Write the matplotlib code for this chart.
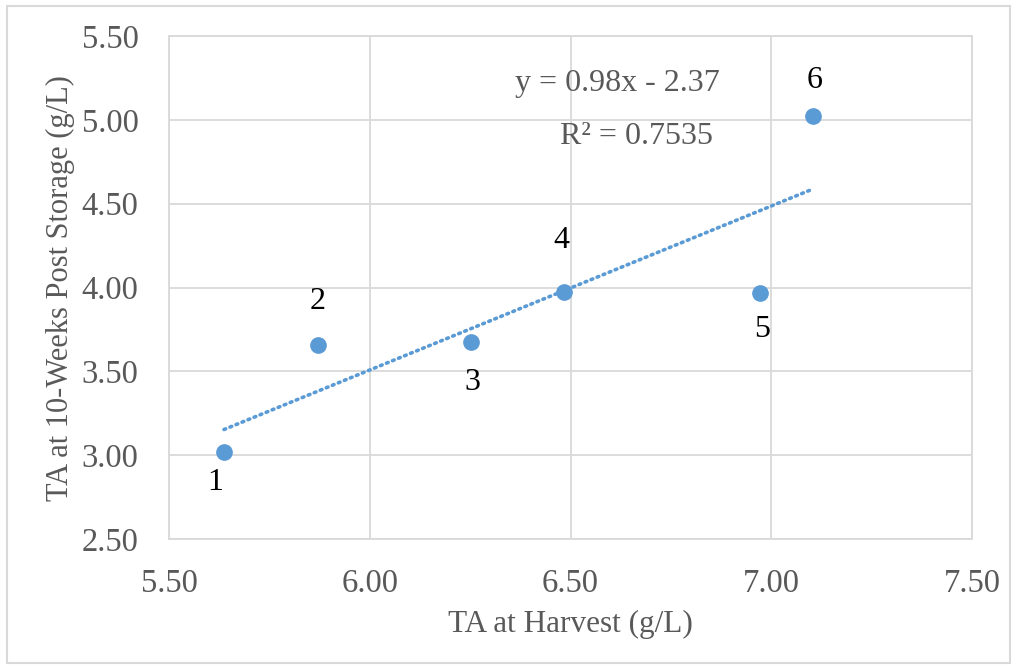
import numpy as np
import matplotlib
matplotlib.use("Agg")
import matplotlib.pyplot as plt
from matplotlib.patches import Rectangle

# Data
labels = ["1", "2", "3", "4", "5", "6"]
x_vals = [5.637, 5.872, 6.253, 6.483, 6.971, 7.103]
y_vals = [3.018, 3.655, 3.673, 3.976, 3.970, 5.024]
label_offsets = [(-9, -30), (-1, 44), (1, -40), (-2, 51), (3, -37), (2, 35)]  # pixels
x_ticks = [5.50, 6.00, 6.50, 7.00, 7.50]
y_ticks = [2.50, 3.00, 3.50, 4.00, 4.50, 5.00, 5.50]
eq_text = "y = 0.98x - 2.37"
r2_text = "R² = 0.7535"

W, H = 1017, 668
fig = plt.figure(figsize=(W / 100, H / 100), dpi=100)
plt.rcParams['font.family'] = ['Liberation Serif', 'DejaVu Serif']

# outer border
fig.patches.append(Rectangle((7 / W, 5 / H), (1010 - 7) / W, (662 - 5) / H,
                             transform=fig.transFigure, fill=False,
                             edgecolor='#D9D9D9', linewidth=1.5))

ax = fig.add_axes([169 / W, 1 - 539 / H, (972 - 169) / W, (539 - 36) / H])
ax.set_xlim(5.5, 7.5)
ax.set_ylim(2.5, 5.5)
ax.set_xticks(x_ticks)
ax.set_yticks(y_ticks)
ax.set_xticklabels([f"{v:.2f}" for v in x_ticks])
ax.set_yticklabels([f"{v:.2f}" for v in y_ticks])
ax.tick_params(length=0, labelsize=23.5, colors='#595959')
ax.tick_params(axis='y', pad=22)
ax.tick_params(axis='x', pad=21)
ax.grid(True, color='#D9D9D9', linewidth=1.3)
ax.set_axisbelow(True)
for s in ax.spines.values():
    s.set_color('#D9D9D9')
    s.set_linewidth(1.3)

# trendline
xs = np.array(x_vals)
ys = np.array(y_vals)
m, b = np.polyfit(xs, ys, 1)
xl = np.array([xs.min(), xs.max()])
ax.plot(xl, m * xl + b, color='#5B9BD5', linewidth=2.6,
        linestyle=(0, (0.5, 1.3)), dash_capstyle='round', zorder=2)

ax.plot(x_vals, y_vals, 'o', color='#5B9BD5', markersize=11, zorder=3)

for lab, xv, yv, (dx, dy) in zip(labels, x_vals, y_vals, label_offsets):
    ax.annotate(lab, (xv, yv), xytext=(dx * 0.72, dy * 0.72), textcoords='offset points',
                ha='center', va='center', fontsize=23, color='black')

fig.text(617 / W, 1 - 84 / H, eq_text, ha='center', va='center', fontsize=23, color='#595959')
fig.text(637 / W, 1 - 137 / H, r2_text, ha='center', va='center', fontsize=23, color='#595959')

fig.text(570 / W, 1 - 624 / H, "TA at Harvest (g/L)", ha='center', va='center',
         fontsize=22.5, color='#595959')
fig.text(60 / W, 1 - 288 / H, "TA at 10-Weeks Post Storage (g/L)", ha='center', va='center',
         rotation=90, fontsize=22, color='#595959')

fig.savefig("out.png", dpi=100)
